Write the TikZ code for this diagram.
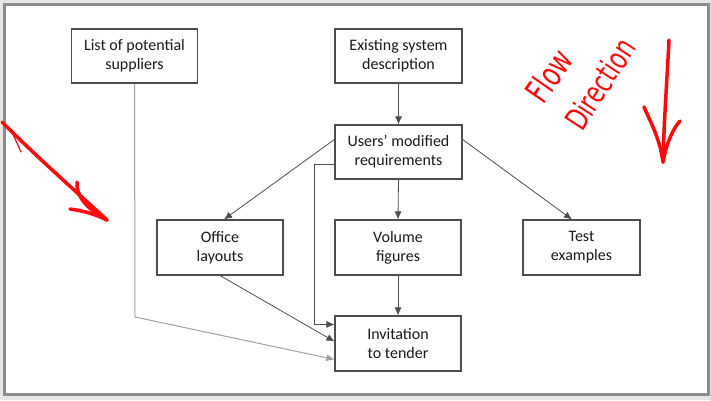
\documentclass[tikz,border=0pt]{standalone}
\usepackage{fontspec}
\setmainfont{Carlito}
\newfontfamily\handfont{DejaVu Sans}
\usetikzlibrary{arrows.meta,calc}
\definecolor{boxline}{HTML}{4D4D4D}
\definecolor{paleline}{HTML}{A0A0A0}
\definecolor{framegray}{HTML}{8C8C8C}
\definecolor{pagegray}{HTML}{E6E6E6}
\definecolor{penred}{HTML}{FF0A0A}
\tikzset{
  stagebox/.style={draw=boxline,line width=1.1pt,fill=white,align=center,
    font=\fontsize{16}{19}\selectfont,text=black!90,inner sep=0pt},
  flowarrow/.style={draw=boxline,line width=0.8pt,-{Latex[length=8pt,width=7pt]}},
  palearrow/.style={draw=paleline,line width=1pt,-{Latex[length=8pt,width=7pt]}},
  pen/.style={penred,line width=3.5pt,line cap=round,line join=round}
}
\begin{document}
\begin{tikzpicture}[x=1pt,y=-1pt]
% Page and frame
\fill[pagegray] (0,0) rectangle (711,400);
\draw[framegray,line width=3pt,fill=white] (4,4) rectangle (708,394.5);
\useasboundingbox (0,0) rectangle (711,400);

% Boxes
\node[stagebox,minimum width=126pt,minimum height=54pt] (list) at (134.5,56) {List of potential\\suppliers};
\node[stagebox,minimum width=127pt,minimum height=54pt] (exist) at (398.5,56) {Existing system\\description};
\node[stagebox,minimum width=127pt,minimum height=54pt] (users) at (398.5,152) {Users’ modified\\requirements};
\node[stagebox,minimum width=126pt,minimum height=55pt] (office) at (220,247.5) {Office\\layouts};
\node[stagebox,minimum width=126pt,minimum height=55pt] (volume) at (398,247.5) {Volume\\figures};
\node[stagebox,minimum width=117pt,minimum height=55pt] (test) at (581.5,247.5) {Test\\examples};
\node[stagebox,minimum width=126pt,minimum height=55pt] (invite) at (398,343.5) {Invitation\\to tender};

% Connectors
\coordinate (listbend) at (135,317);
\draw[flowarrow] (exist.south) -- (users.north);
\draw[flowarrow] ($(users.north west)+(0,15)$) -- ($(office.north)+(4,0)$);
\draw[flowarrow] ($(users.north east)+(0,15)$) -- ($(test.north)+(-9.5,0)$);
\draw[flowarrow] (users.south) -- (volume.north);
\draw[flowarrow] ($(users.north west)+(0,40)$) -- ++(-20,0) |- ($(invite.north west)+(0,9)$);
\draw[flowarrow] (office.south) -- ($(invite.north west)+(0,26)$);
\draw[flowarrow] (volume.south) -- (invite.north);
\draw[palearrow] (list.south) -- (listbend) -- ($(invite.north west)+(0,44)$);

% Hand-drawn notes
\coordinate (lefttail) at (2,122);
\coordinate (lefttip) at (107,220);
\draw[pen] (lefttail) .. controls (40,160) and (80,195) .. (lefttip);
\draw[pen,line width=1.2pt] (12,132) -- (21,152);
\draw[pen] (77,182) .. controls (76,195) and (85,208) .. (lefttip);
\draw[pen] (70,209) .. controls (85,211) and (97,215) .. (lefttip);

\coordinate (righttail) at (669,40);
\coordinate (righttip) at (663,162);
\draw[pen] (righttail) .. controls (667,80) and (664,120) .. (righttip);
\draw[pen] (644,107) .. controls (652,125) and (660,140) .. (righttip);
\draw[pen] (680,121) .. controls (672,130) and (666,145) .. (righttip);

\node[penred,inner sep=0pt,font=\handfont\fontsize{27}{27}\selectfont,rotate=55,yscale=1.25,xscale=0.9] (flowtext) at (549,76) {Flow};
\node[penred,inner sep=0pt,font=\handfont\fontsize{25}{25}\selectfont,rotate=57,yscale=1.25,xscale=0.9] (dirtext) at (600,84) {Direction};
\end{tikzpicture}
\end{document}
